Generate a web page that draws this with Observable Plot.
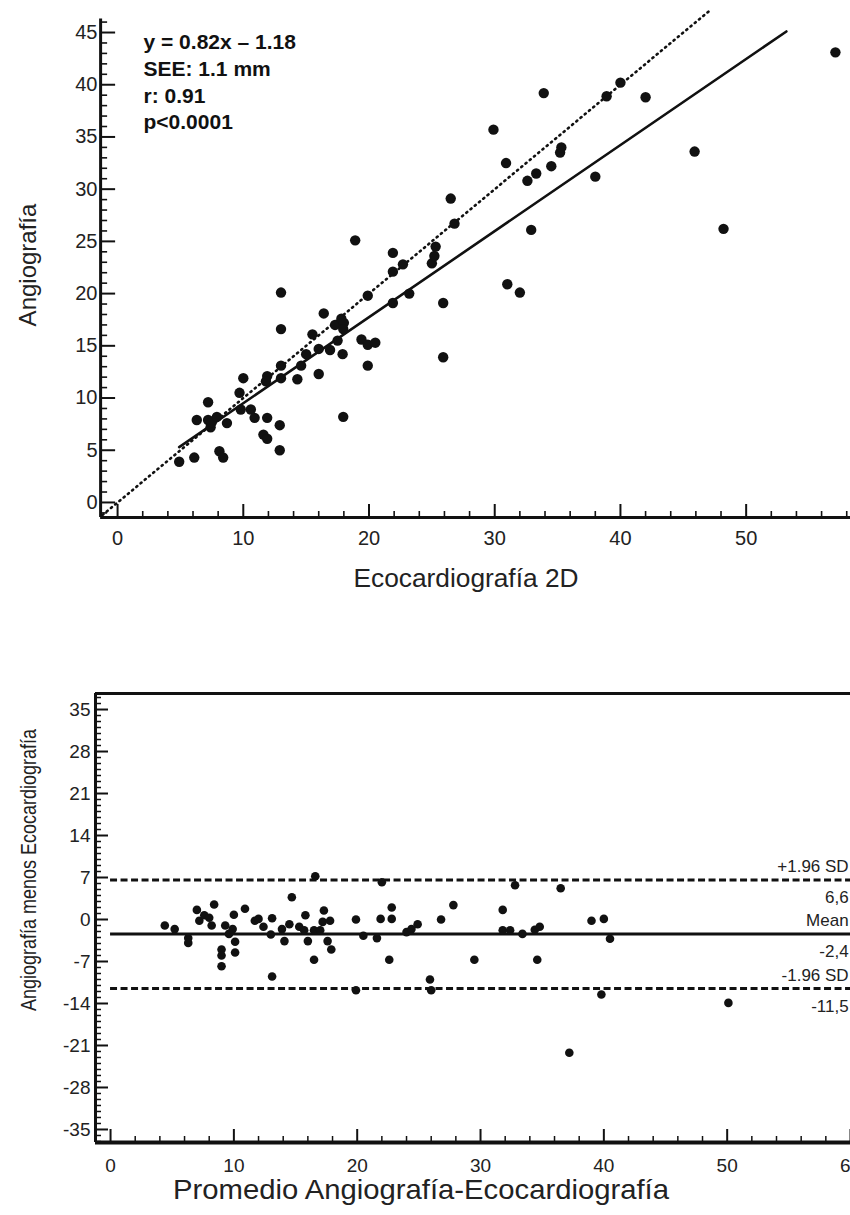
<!DOCTYPE html>
<html><head><meta charset="utf-8">
<script src="https://cdn.jsdelivr.net/npm/d3@7"></script>
<script src="https://cdn.jsdelivr.net/npm/@observablehq/plot@0.6"></script>
<style>
body{margin:0;background:#fff;width:850px;overflow:hidden}
#top svg,#bot svg{display:block;overflow:hidden}
</style></head><body>
<div id="top"></div><div id="bot"></div>
<script>
// ---------- DATA: top chart (Ecocardiografía 2D vs Angiografía) ----------
const ecoValues = [4.9,6.1,6.3,7.2,7.2,7.4,7.5,7.9,8.1,8.4,8.7,9.7,10.0,9.8,10.6,10.9,11.9,11.9,11.8,11.6,11.9,13.0,13.0,13.0,13.0,12.9,12.9,14.3,14.6,15.0,15.5,16.0,16.0,16.4,16.9,17.3,17.5,17.8,18.0,17.95,17.9,17.95,19.4,19.9,19.9,20.5,19.9,21.9,23.2,21.9,21.9,22.7,25.0,25.2,25.3,25.9,25.9,18.9,26.5,26.8,31.0,32.0,32.9,29.9,30.9,32.6,33.3,34.5,35.2,35.3,33.9,38.0,38.9,40.0,42.0,45.9,48.2,57.1];
const angioValues = [3.9,4.3,7.9,9.6,7.9,7.2,7.7,8.2,4.9,4.3,7.6,10.5,11.9,8.9,8.9,8.1,8.1,12.1,11.6,6.5,6.1,20.1,16.6,13.1,11.9,7.4,5.0,11.8,13.1,14.2,16.1,14.7,12.3,18.1,14.6,17.0,15.5,17.6,17.2,16.6,14.2,8.2,15.6,15.1,13.1,15.3,19.8,19.1,20.0,22.1,23.9,22.8,22.9,23.6,24.5,19.1,13.9,25.1,29.1,26.7,20.9,20.1,26.1,35.7,32.5,30.8,31.5,32.2,33.5,34.0,39.2,31.2,38.9,40.2,38.8,33.6,26.2,43.1];
const fitLineX = [4.9, 53.2];
const fitLineY = [5.3, 45.1];
const identityX = [-1.2, 47.0];
const statsLines = ["y = 0.82x \u2013 1.18", "SEE: 1.1 mm", "r: 0.91", "p<0.0001"];
const topXTicks = [0,10,20,30,40,50];
const topYTicks = [0,5,10,15,20,25,30,35,40,45];
const topXLabel = "Ecocardiografía 2D";
const topYLabel = "Angiografía";

// ---------- DATA: bottom chart (Bland-Altman) ----------
const meanValues = [4.4,5.2,6.3,6.3,7.0,7.2,7.6,8.0,8.2,8.4,9.3,9.6,9.9,10.0,10.1,10.1,9.0,9.0,9.0,10.9,11.7,12.0,12.4,13.1,13.0,13.9,14.1,14.5,14.7,15.3,15.8,16.0,15.7,16.6,16.5,16.5,17.3,17.2,17.8,17.0,17.6,17.9,22.0,19.9,20.5,21.6,21.9,22.8,22.8,22.6,24.0,24.4,24.9,26.8,27.8,29.5,31.8,31.8,32.4,32.8,33.4,34.4,34.8,34.6,36.5,39.0,40.0,40.5,13.1,19.9,25.9,26.0,39.8,50.1,37.2];
const diffValues = [-1.0,-1.6,-3.1,-3.9,1.6,-0.2,0.7,0.3,-1.0,2.5,-1.0,-2.4,-1.6,0.8,-3.7,-5.5,-5.0,-6.0,-7.8,1.8,-0.2,0.1,-1.2,0.2,-2.5,-1.6,-3.6,-0.8,3.7,-1.2,0.7,-3.6,-1.8,7.2,-6.7,-1.8,1.5,-0.4,-0.2,-1.8,-3.6,-5.0,6.2,0.0,-2.7,-3.1,0.1,2.0,0.1,-6.7,-2.1,-1.6,-0.8,0.0,2.4,-6.7,1.6,-1.8,-1.8,5.7,-2.4,-1.7,-1.2,-6.7,5.2,-0.2,0.1,-3.2,-9.5,-11.8,-10.0,-11.8,-12.5,-13.9,-22.2];
const limitValues = [6.6, -2.4, -11.5];
const limitNames = ["+1.96 SD", "Mean", "-1.96 SD"];
const limitTexts = ["6,6", "-2,4", "-11,5"];
const limitDashed = [true, false, true];
const botXTicks = [0,10,20,30,40,50,60];
const botYTicks = [-35,-28,-21,-14,-7,0,7,14,21,28,35];
const botXLabel = "Promedio Angiografía-Ecocardiografía";
const botYLabel = "Angiografía menos Ecocardiografía";

// ---------- helpers ----------
const INK = "#111";
const FONT = "'Liberation Sans', Arial, Helvetica, sans-serif";
const W = 850;
const range = (a, b, s) => d3.range(a, b + s / 2, s);
function squeeze(svg, label, len) {
  d3.select(svg).selectAll("text").filter(function () { return this.textContent === label; })
    .attr("textLength", len).attr("lengthAdjust", "spacingAndGlyphs");
}

// ---------- TOP CHART ----------
{
  const H = 600, ML = 103, MT = 8, MB = 83;
  const xd = [-1.12, 58.3], yd = [-1.44, 47.3];
  const kx = (W - ML) / (xd[1] - xd[0]);
  const ky = (H - MT - MB) / (yd[1] - yd[0]);
  const ax = -1.35, ay = yd[0], yTop = 46.3;
  const pts = ecoValues.map((x, i) => ({x, y: angioValues[i]}));
  const fit = fitLineX.map((x, i) => ({x, y: fitLineY[i]}));
  const ident = identityX.map(v => ({x: v, y: v}));
  const yMinor = range(-1, 46, 1).filter(v => !topYTicks.includes(v));
  const xMinor = range(0, 58, 2).filter(v => !topXTicks.includes(v));
  const chart = Plot.plot({
    width: W, height: H, marginLeft: ML, marginRight: 0, marginTop: MT, marginBottom: MB,
    style: {fontFamily: FONT, background: "#fff", color: INK},
    x: {domain: xd}, y: {domain: yd},
    marks: [
      Plot.ruleX([ax], {y1: ay, y2: yTop, stroke: INK, strokeWidth: 3}),
      Plot.ruleY([ay], {x1: ax, x2: xd[1], stroke: INK, strokeWidth: 3}),
      Plot.ruleY(yMinor, {y: d => d, x1: ax, x2: ax + 7 / kx, stroke: INK, strokeWidth: 1.6}),
      Plot.ruleY(topYTicks, {y: d => d, x1: ax, x2: ax + 15 / kx, stroke: INK, strokeWidth: 2}),
      Plot.ruleX(xMinor, {x: d => d, y1: ay, y2: ay + 6 / ky, stroke: INK, strokeWidth: 1.6}),
      Plot.ruleX(topXTicks, {x: d => d, y1: ay, y2: ay + 13 / ky, stroke: INK, strokeWidth: 2}),
      Plot.axisY({ticks: topYTicks, tickSize: 0, tickPadding: 6, fontSize: 20, tickFormat: d => String(d), label: null, fill: "#222"}),
      Plot.axisX({ticks: topXTicks, tickSize: 0, tickPadding: 13, fontSize: 20, tickFormat: d => String(d), label: null, fill: "#222"}),
      Plot.line(ident, {x: "x", y: "y", stroke: INK, strokeWidth: 2.6, strokeDasharray: "1.2,4.3", strokeLinecap: "round"}),
      Plot.line(fit, {x: "x", y: "y", stroke: INK, strokeWidth: 2.6}),
      Plot.dot(pts, {x: "x", y: "y", r: 5.2, fill: INK, stroke: "none"}),
      Plot.text([statsLines.join("\n")], {frameAnchor: "top-left", dx: 40, dy: 22, textAnchor: "start", lineAnchor: "top", lineHeight: 1.27, fontSize: 21, fontWeight: "bold", fill: INK, text: d => d}),
      Plot.text([topXLabel], {frameAnchor: "bottom", dx: -11, dy: 61, textAnchor: "middle", lineAnchor: "middle", fontSize: 25, fill: "#222", text: d => d}),
      Plot.text([topYLabel], {frameAnchor: "left", dx: -75, dy: 2, rotate: -90, textAnchor: "middle", lineAnchor: "middle", fontSize: 24, fill: "#222", text: d => d})
    ]
  });
  squeeze(chart, topXLabel, 225);
  document.getElementById("top").appendChild(chart);
}

// ---------- BOTTOM CHART ----------
{
  const H = 615, ML = 95, MT = 93, MB = 73;
  const xd = [-1.22, 60], yd = [-37.17, 37.67];
  const kx = (W - ML) / (xd[1] - xd[0]);
  const ky = (H - MT - MB) / (yd[1] - yd[0]);
  const ax = xd[0], ay = yd[0];
  const pts = meanValues.map((x, i) => ({x, y: diffValues[i]}));
  const limits = limitValues.map((v, i) => ({v, name: limitNames[i], txt: limitTexts[i], dashed: limitDashed[i]}));
  const yMinor = range(-37, 37, 1).filter(v => !botYTicks.includes(v));
  const xMinor = range(0, 60, 2).filter(v => !botXTicks.includes(v));
  const chart = Plot.plot({
    width: W, height: H, marginLeft: ML, marginRight: 0, marginTop: MT, marginBottom: MB,
    style: {fontFamily: FONT, background: "#fff", color: INK},
    x: {domain: xd}, y: {domain: yd},
    marks: [
      Plot.ruleY(yMinor, {y: d => d, x1: ax, x2: ax + 6 / kx, stroke: INK, strokeWidth: 1.5}),
      Plot.ruleY(botYTicks, {y: d => d, x1: ax, x2: ax + 13 / kx, stroke: INK, strokeWidth: 2}),
      Plot.ruleX(xMinor, {x: d => d, y1: ay, y2: ay + 6 / ky, stroke: INK, strokeWidth: 1.5}),
      Plot.ruleX(botXTicks, {x: d => d, y1: ay, y2: ay + 13 / ky, stroke: INK, strokeWidth: 2}),
      Plot.ruleX([ax], {y1: ay, y2: yd[1], stroke: INK, strokeWidth: 3}),
      Plot.ruleY([yd[1]], {x1: ax, x2: xd[1], stroke: INK, strokeWidth: 3}),
      Plot.ruleY([ay], {x1: ax, x2: xd[1], stroke: INK, strokeWidth: 4}),
      Plot.axisY({ticks: botYTicks, tickSize: 0, tickPadding: 5, fontSize: 19, tickFormat: d => String(d), label: null, fill: "#222"}),
      Plot.axisX({ticks: botXTicks, tickSize: 0, tickPadding: 16, fontSize: 19, tickFormat: d => String(d), label: null, fill: "#222"}),
      Plot.ruleY(limits.filter(d => d.dashed), {y: "v", x1: 0, x2: xd[1], stroke: INK, strokeWidth: 3, strokeDasharray: "7,3.5"}),
      Plot.ruleY(limits.filter(d => !d.dashed), {y: "v", x1: 0, x2: xd[1], stroke: INK, strokeWidth: 3}),
      Plot.dot(pts, {x: "x", y: "y", r: 4.3, fill: INK, stroke: "none"}),
      Plot.text(limits, {x: 59.85, y: "v", text: "name", textAnchor: "end", lineAnchor: "middle", dy: -13, fontSize: 17, fill: "#222"}),
      Plot.text(limits, {x: 59.85, y: "v", text: "txt", textAnchor: "end", lineAnchor: "middle", dy: 18, fontSize: 17, fill: "#222"}),
      Plot.text([botXLabel], {frameAnchor: "bottom", dx: -52, dy: 48, textAnchor: "middle", lineAnchor: "middle", fontSize: 28, fill: "#222", text: d => d}),
      Plot.text([botYLabel], {frameAnchor: "left", dx: -67, dy: -48, rotate: -90, textAnchor: "middle", lineAnchor: "middle", fontSize: 22, fill: "#222", text: d => d})
    ]
  });
  squeeze(chart, botXLabel, 496);
  squeeze(chart, botYLabel, 282);
  document.getElementById("bot").appendChild(chart);
}
</script>
</body></html>
